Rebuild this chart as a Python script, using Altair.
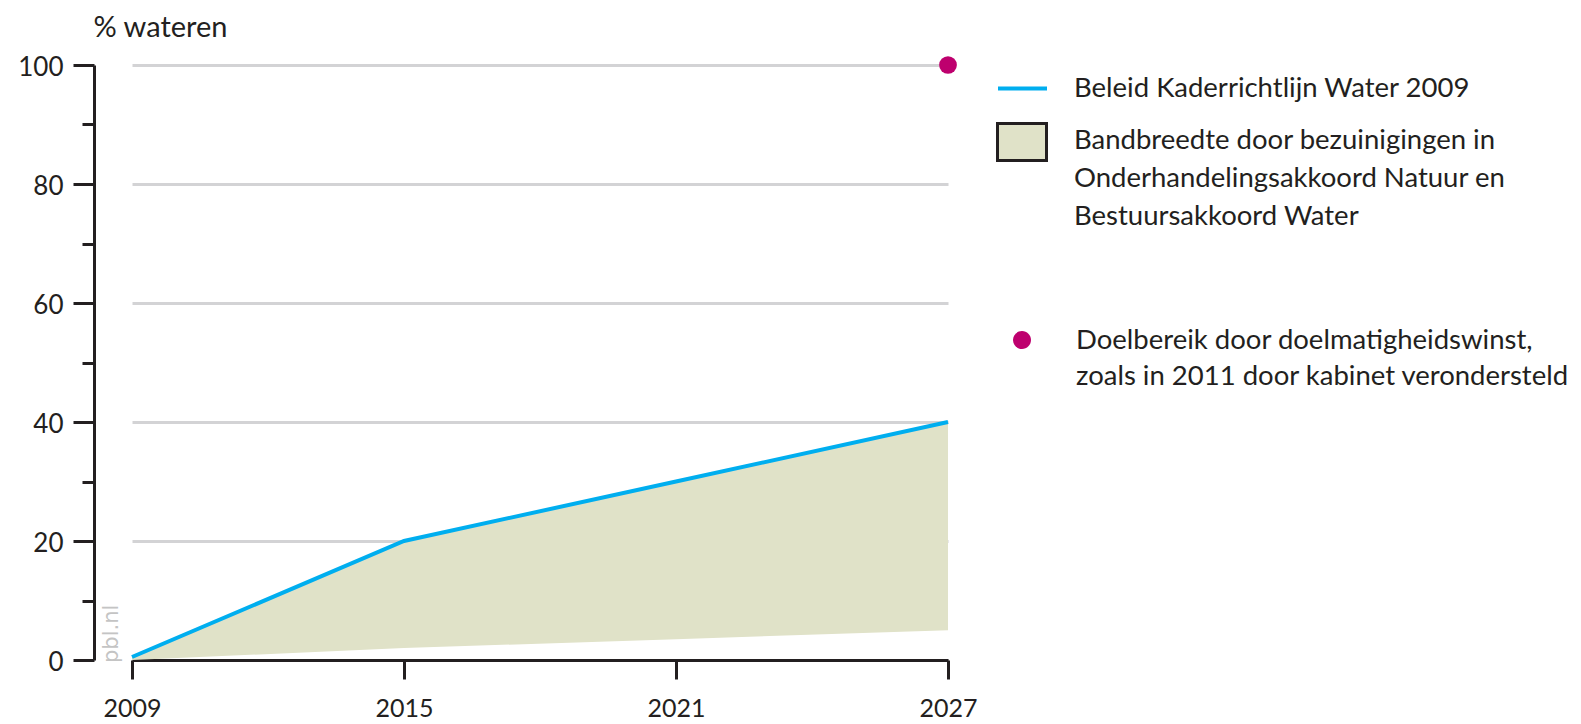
import altair as alt
import pandas as pd

# ---- data ----
years = [2009, 2015, 2021, 2027]
beleid = [0.5, 20, 30, 40]          # Beleid Kaderrichtlijn Water 2009
band_low = [0, 2, 3.5, 5]           # lower edge of bandbreedte
band_high = [0.5, 20, 30, 40]       # upper edge of bandbreedte
doel_year = [2027]
doel_value = [100]

lbl_line = "Beleid Kaderrichtlijn Water 2009"
lbl_band = ["Bandbreedte door bezuinigingen in", "Onderhandelingsakkoord Natuur en", "Bestuursakkoord Water"]
lbl_doel = ["Doelbereik door doelmatigheidswinst,", "zoals in 2011 door kabinet verondersteld"]

x_ticks = [2009, 2015, 2021, 2027]
y_major = [0, 20, 40, 60, 80, 100]
y_minor = [10, 30, 50, 70, 90]

FONT = "Lato"
DARK = "#231f20"
BLUE = "#00aeef"
BEIGE = "#e0e2c8"
MAGENTA = "#be006e"
LFS = 27.5  # legend font size

df_line = pd.DataFrame({"year": years, "value": beleid, "label": [lbl_line] * 4})
df_band = pd.DataFrame({"year": years, "low": band_low, "high": band_high, "label": ["band"] * 4})
df_doel = pd.DataFrame({"year": doel_year, "value": doel_value, "label": ["doel"]})

x_enc = alt.X(
    "year:Q",
    scale=alt.Scale(domain=[2009, 2027], nice=False, zero=False),
    axis=alt.Axis(
        values=x_ticks, format="d", title=None, grid=False, labelFlush=False,
        tickSize=19, tickWidth=3, tickColor=DARK,
        domainWidth=3, domainColor=DARK,
        labelFont=FONT, labelFontSize=25, labelColor=DARK, labelPadding=17,
    ),
)

y_scale = alt.Scale(domain=[0, 100], nice=False, zero=True)
y_axis = alt.Axis(
    values=y_major, offset=38, orient="left", labelFlush=False,
    tickSize=21, tickWidth=3, tickColor=DARK,
    domainWidth=3, domainColor=DARK,
    grid=True, gridColor="#d3d3d5", gridWidth=3,
    labelFont=FONT, labelFontSize=26, labelColor=DARK, labelPadding=10, labelOffset=2,
    title="% wateren", titleAngle=0, titleAlign="left", titleBaseline="alphabetic",
    titleX=-1, titleY=-29, titleFont=FONT, titleFontSize=29,
    titleFontWeight="normal", titleColor=DARK,
)
y_minor_axis = alt.Axis(
    values=y_minor, offset=38, orient="left", tickSize=12, tickWidth=3, tickColor=DARK,
    domain=False, labels=False, grid=False, title=None,
)

band = alt.Chart(df_band).mark_area(opacity=1).encode(
    x=x_enc,
    y=alt.Y("low:Q", scale=y_scale, axis=y_axis),
    y2="high:Q",
    fill=alt.Fill(
        "label:N",
        scale=alt.Scale(domain=["band"], range=[BEIGE]),
        legend=alt.Legend(
            title=lbl_band, titleOrient="right", titleAnchor="start", titleBaseline="top",
            titleFont=FONT, titleFontSize=LFS, titleFontWeight="normal", titleColor=DARK,
            titleLineHeight=38, titlePadding=21, titleLimit=800,
            orient="none", legendX=864, legendY=62,
            symbolType="M-1,-1.204H1V0.306H-1Z", symbolSize=2401,
            symbolStrokeColor=DARK, symbolStrokeWidth=3, symbolFillColor=BEIGE,
            labelExpr="''", labelOffset=0,
        ),
    ),
)

line = alt.Chart(df_line).mark_line(strokeWidth=4).encode(
    x=x_enc,
    y=alt.Y("value:Q", scale=y_scale, axis=y_axis),
    stroke=alt.Stroke(
        "label:N",
        scale=alt.Scale(domain=[lbl_line], range=[BLUE]),
        legend=alt.Legend(
            title=None, orient="none", legendX=864, legendY=-3,
            symbolType="stroke", symbolSize=2401, symbolStrokeWidth=4,
            labelFont=FONT, labelFontSize=LFS, labelColor=DARK, labelOffset=25,
            labelLimit=800,
        ),
    ),
)

watermark = alt.Chart(pd.DataFrame({"t": ["pbl.nl"]})).mark_text(
    angle=270, align="left", baseline="middle", dx=-3, dy=-20,
    font="DejaVu Sans", fontSize=21, fontWeight="normal", color="#c4c4c4",
).encode(x=alt.X(datum=2009), y=alt.Y(datum=0), text="t:N")

dot = alt.Chart(df_doel).mark_point(filled=True, size=314, opacity=1).encode(
    x=x_enc,
    y=alt.Y("value:Q", scale=y_scale, axis=y_minor_axis),
    color=alt.Color(
        "label:N",
        scale=alt.Scale(domain=["doel"], range=[MAGENTA]),
        legend=alt.Legend(
            title=lbl_doel, titleOrient="right", titleAnchor="start", titleBaseline="top",
            titleFont=FONT, titleFontSize=LFS, titleFontWeight="normal", titleColor=DARK,
            titleLineHeight=36, titlePadding=44, titleLimit=800,
            orient="none", legendX=880, legendY=262,
            symbolType="M-1,0.33A1,1,0,1,1,1,0.33A1,1,0,1,1,-1,0.33Z", symbolSize=324,
            labelExpr="''", labelOffset=0,
        ),
    ),
)

main = alt.layer(band, line, watermark)
chart = alt.layer(main, dot).resolve_axis(y="independent").properties(
    width=816, height=595,
    autosize=alt.AutoSizeParams(type="none"),
    padding={"left": 124, "top": 57, "right": 625, "bottom": 64},
).configure_view(stroke=None).configure_legend(padding=0)

chart.save("out.html", embed_options={"renderer": "svg", "actions": False})
